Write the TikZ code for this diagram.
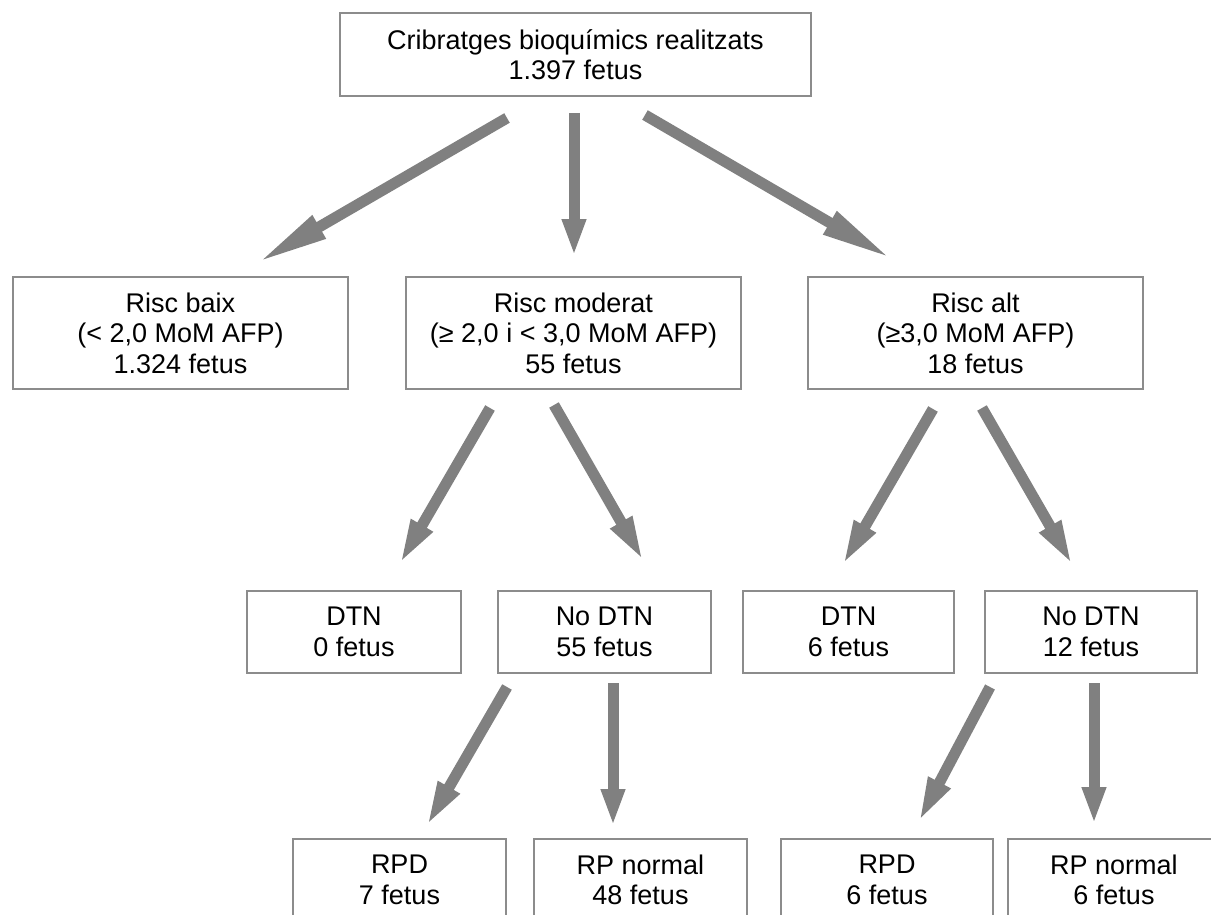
\documentclass[tikz,border=0pt]{standalone}
\usepackage{fontspec}
\setmainfont{Liberation Sans}
\usetikzlibrary{arrows.meta}
\definecolor{boxgray}{HTML}{8C8C8C}
\definecolor{arrgray}{HTML}{808080}
\begin{document}
\begin{tikzpicture}[x=1pt,y=-1pt,
  box/.style={draw=boxgray, line width=2pt, fill=white, inner sep=0pt, align=center,
    font=\fontsize{27}{30.5}\selectfont},
  bigarr/.style={draw=arrgray, line width=11pt, -{Triangle[length=72pt,width=24pt]}},
  varr/.style={draw=arrgray, line width=11pt, -{Triangle[length=37pt,width=22pt]}},
  midarr/.style={draw=arrgray, line width=11pt, -{Triangle[length=46pt,width=22pt]}}
]
\clip (0,0) rectangle (1211,915);
\fill[white] (0,0) rectangle (1211,915);

% nodes
\node[box, minimum width=471pt, minimum height=83pt] (top) at (575.5,54.5) {Cribratges bioquímics realitzats\\1.397 fetus};

\node[box, minimum width=335pt, minimum height=112pt] (baix) at (180.5,333) {Risc baix\\(< 2,0 MoM AFP)\\1.324 fetus};
\node[box, minimum width=335pt, minimum height=112pt] (mod) at (573.5,333) {Risc moderat\\(≥ 2,0 i < 3,0 MoM AFP)\\55 fetus};
\node[box, minimum width=335pt, minimum height=112pt] (alt) at (975.5,333) {Risc alt\\(≥3,0 MoM AFP)\\18 fetus};

\node[box, minimum width=214pt, minimum height=82pt] (dtnA) at (354,632) {DTN\\0 fetus};
\node[box, minimum width=213pt, minimum height=82pt] (nodtnA) at (604.5,632) {No DTN\\55 fetus};
\node[box, minimum width=211pt, minimum height=82pt] (dtnB) at (848.5,632) {DTN\\6 fetus};
\node[box, minimum width=212pt, minimum height=82pt] (nodtnB) at (1091,632) {No DTN\\12 fetus};

\node[box, minimum width=213pt, minimum height=82pt] (rpdA) at (399.5,880) {RPD\\7 fetus};
\node[box, minimum width=213pt, minimum height=82pt] (rpnA) at (640.5,880) {RP normal\\48 fetus};
\node[box, minimum width=212pt, minimum height=82pt] (rpdB) at (887,880) {RPD\\6 fetus};
\node[box, minimum width=212pt, minimum height=82pt] (rpnB) at (1114,880) {RP normal\\6 fetus};

% arrow end points
\coordinate (a1s) at (507,118); \coordinate (a1e) at (257,263);
\coordinate (a2s) at (574,113); \coordinate (a2e) at (574,256);
\coordinate (a3s) at (645,115); \coordinate (a3e) at (892,259);

\coordinate (b1s) at (490,408); \coordinate (b1e) at (399,565);
\coordinate (b2s) at (554,405); \coordinate (b2e) at (644,562);
\coordinate (b3s) at (933,409); \coordinate (b3e) at (842,566);
\coordinate (b4s) at (982,408); \coordinate (b4e) at (1073,566);

\coordinate (c1s) at (507,687); \coordinate (c1e) at (426,827);
\coordinate (c2s) at (613,683); \coordinate (c2e) at (613,826);
\coordinate (c3s) at (990,687); \coordinate (c3e) at (918,823);
\coordinate (c4s) at (1094,683); \coordinate (c4e) at (1094,824);

% arrows
\draw[bigarr] (a1s) -- (a1e);
\draw[varr] (a2s) -- (a2e);
\draw[bigarr] (a3s) -- (a3e);

\draw[midarr] (b1s) -- (b1e);
\draw[midarr] (b2s) -- (b2e);
\draw[midarr] (b3s) -- (b3e);
\draw[midarr] (b4s) -- (b4e);

\draw[midarr] (c1s) -- (c1e);
\draw[varr] (c2s) -- (c2e);
\draw[midarr] (c3s) -- (c3e);
\draw[varr] (c4s) -- (c4e);
\end{tikzpicture}
\end{document}
